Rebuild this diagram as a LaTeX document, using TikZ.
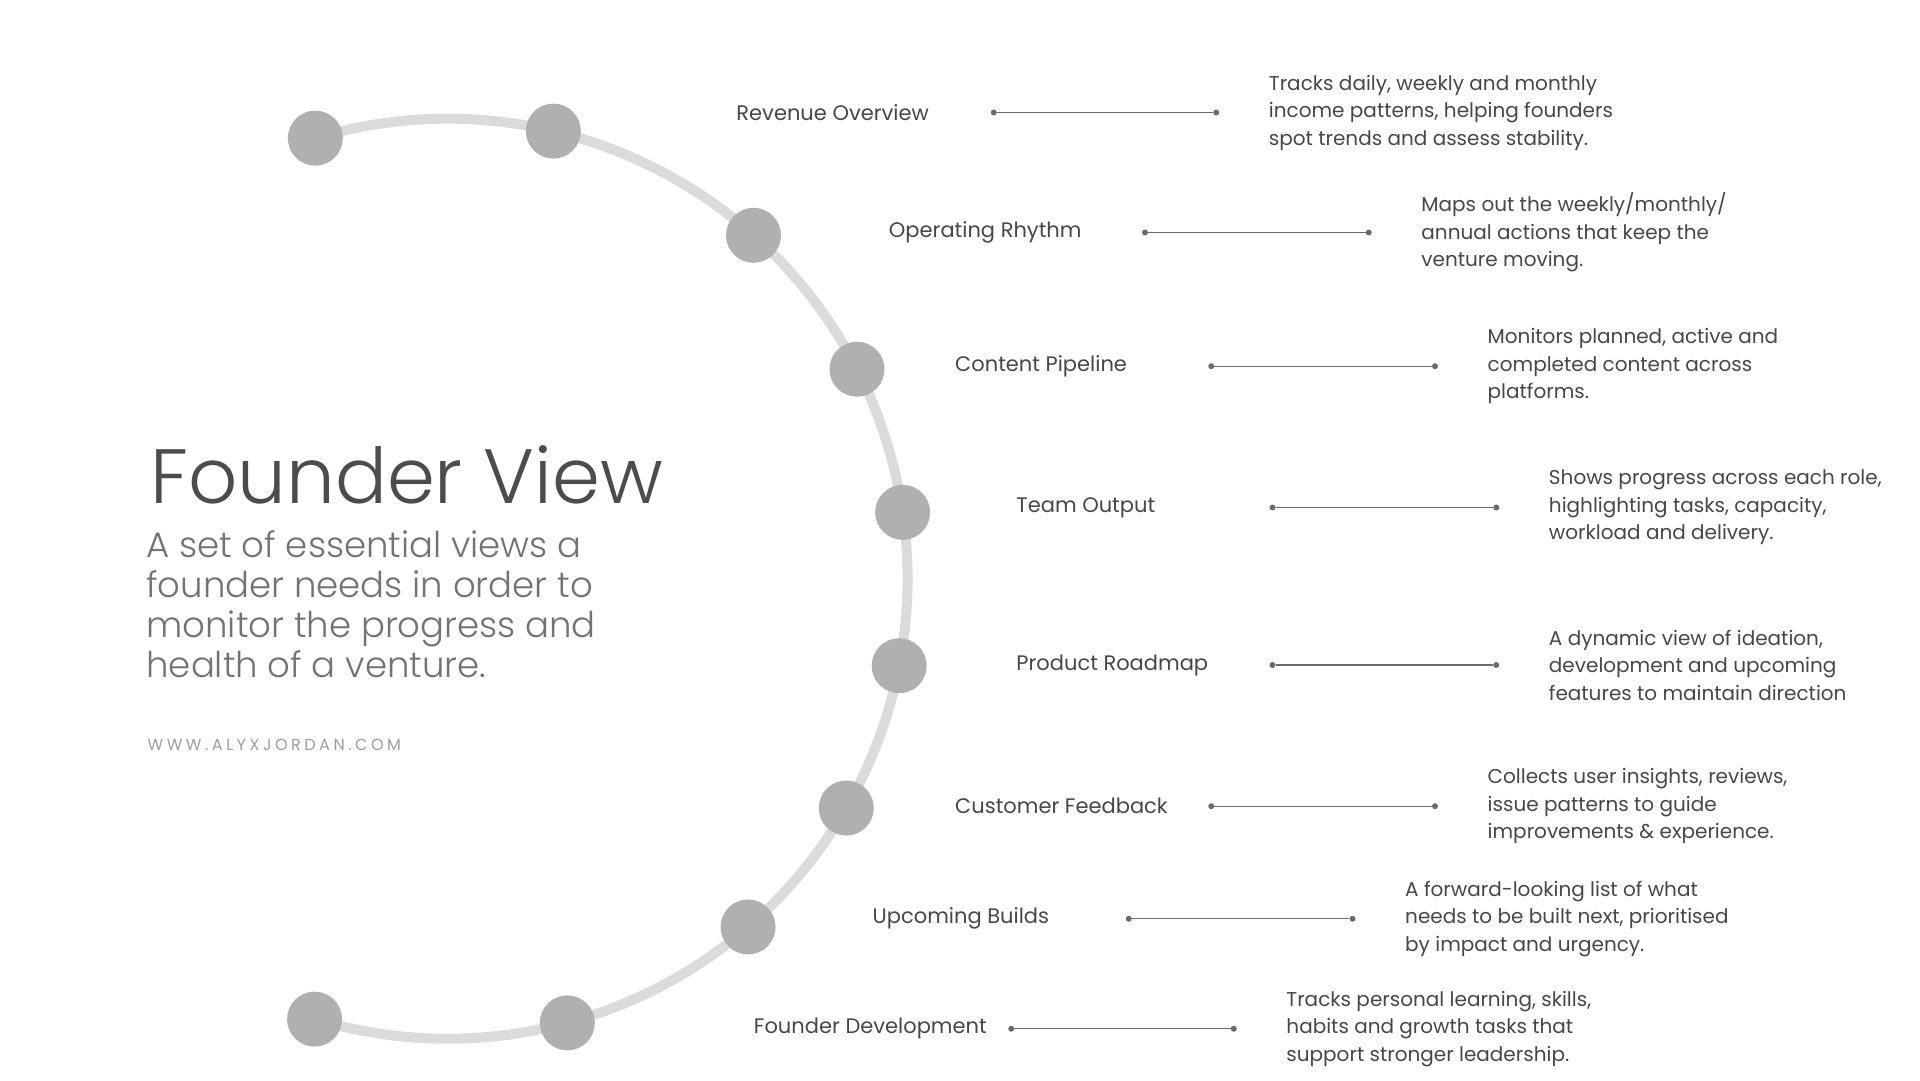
\documentclass[tikz,border=0pt]{standalone}
\usetikzlibrary{calc}
\usepackage{fontspec}
\setmainfont{Poppins}
\newfontfamily\lightf{Poppins Light}
\newfontfamily\urlf[LetterSpace=22]{Poppins}
\begin{document}
\begin{tikzpicture}[x=1.25pt,y=1.25pt,
  dotc/.style={circle,fill=black!31,minimum size=55pt,inner sep=0pt},
  lab/.style={anchor=west,font=\fontsize{21}{24}\selectfont,text=black!72,inner sep=0pt},
  desc/.style={anchor=west,font=\fontsize{20}{27.5}\selectfont,text=black!72,align=left,inner sep=0pt},
  conn/.style={draw=black!58,line width=1.3pt},
  endp/.style={circle,fill=black!58,inner sep=0pt,minimum size=6pt}]
\useasboundingbox[fill=white] (0,0) rectangle (1536,864);
\coordinate (c) at (358,401);
\draw[black!14,line width=10pt] (c) ++(106.8:368) arc[start angle=106.8,end angle=-106.8,radius=368];
\foreach \a/\n in {106.7/d0,76.7/d1,48.3/d2,27.1/d3,8.3/d4,-10.9/d5,-29.9/d6,-49.2/d7,-74.9/d8,-106.8/d9}
  \node[dotc] (\n) at ($(c)+(\a:368)$) {};
\foreach \y/\lx/\l/\a/\b/\dx/\t/\nm in {
 90/589/Revenue Overview/795/973/1015/{Tracks daily, weekly and monthly\\income patterns, helping founders\\spot trends and assess stability.}/rev,
 186/711/Operating Rhythm/916/1095/1137/{Maps out the weekly/monthly/\\annual actions that keep the\\venture moving.}/opr,
 293/764/Content Pipeline/969/1148/1190/{Monitors planned, active and\\completed content across\\platforms.}/cp,
 406/813/Team Output/1018/1197/1239/{Shows progress across each role,\\highlighting tasks, capacity,\\workload and delivery.}/to,
 532/813/Product Roadmap/1018/1197/1239/{A dynamic view of ideation,\\development and upcoming\\features to maintain direction}/pr,
 645/764/Customer Feedback/969/1148/1190/{Collects user insights, reviews,\\issue patterns to guide\\improvements \& experience.}/cf,
 735/698/Upcoming Builds/903/1082/1124/{A forward-looking list of what\\needs to be built next, prioritised\\by impact and urgency.}/ub,
 823/603/Founder Development/809/987/1029/{Tracks personal learning, skills,\\habits and growth tasks that\\support stronger leadership.}/fd}
{
 \node[lab] (\nm-l) at (\lx,864-\y) {\l};
 \node[endp] (\nm-a) at (\a,864-\y) {};
 \node[endp] (\nm-b) at (\b,864-\y) {};
 \draw[conn] (\nm-a) -- (\nm-b);
 \node[desc] (\nm-d) at (\dx,864-\y) {\t};
}
\node[anchor=west,inner sep=0pt,font=\lightf\fontsize{77}{77}\selectfont,text=black!70] (title) at (120,484) {Founder View};
\node[anchor=north west,inner sep=0pt,align=left,font=\lightf\fontsize{35.5}{40}\selectfont,text=black!55] (sub) at (117,440) {A set of essential views a\\founder needs in order to\\monitor the progress and\\health of a venture.};
\node[anchor=west,inner sep=0pt,font=\urlf\fontsize{16}{18}\selectfont,text=black!38] (url) at (118,268) {WWW.ALYXJORDAN.COM};
\end{tikzpicture}
\end{document}
